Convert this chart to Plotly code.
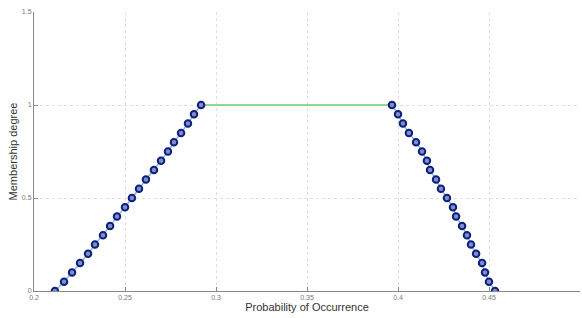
import plotly.graph_objects as go

# Left ramp (rising)
left_x = [0.2115, 0.2165, 0.2209, 0.2253, 0.2297, 0.2335, 0.2379, 0.2418, 0.2456, 0.2500,
          0.2538, 0.2577, 0.2615, 0.2659, 0.2698, 0.2736, 0.2769, 0.2808, 0.2846, 0.2879, 0.2918]
left_y = [0, 0.05, 0.10, 0.15, 0.20, 0.25, 0.30, 0.35, 0.40, 0.45,
          0.50, 0.55, 0.60, 0.65, 0.70, 0.75, 0.80, 0.85, 0.90, 0.95, 1.0]

# Right ramp (falling)
right_x = [0.3967, 0.4000, 0.4027, 0.4060, 0.4099, 0.4132, 0.4159, 0.4176, 0.4209, 0.4236,
           0.4269, 0.4302, 0.4319, 0.4352, 0.4379, 0.4401, 0.4429, 0.4462, 0.4478, 0.4500, 0.4533]
right_y = [1.0, 0.95, 0.90, 0.85, 0.80, 0.75, 0.70, 0.65, 0.60, 0.55,
           0.50, 0.45, 0.40, 0.35, 0.30, 0.25, 0.20, 0.15, 0.10, 0.05, 0]

# Plateau
top_x = [0.2918, 0.3967]
top_y = [1.0, 1.0]

x_ticks = [0.2, 0.25, 0.3, 0.35, 0.4, 0.45, 0.5]
x_tick_text = ["0.2", "0.25", "0.3", "0.35", "0.4", "0.45", "0.5"]
y_ticks = [0, 0.5, 1, 1.5]
y_tick_text = ["0", "0.5", "1", "1.5"]

marker = dict(symbol="circle", size=6.5, color="#7f8fc4", line=dict(color="#0d1f7f", width=2))

fig = go.Figure()
fig.add_trace(go.Scatter(x=top_x, y=top_y, mode="lines",
                         line=dict(color="#8fd88f", width=2), hoverinfo="skip"))
fig.add_trace(go.Scatter(x=left_x, y=left_y, mode="lines+markers",
                         line=dict(color="#9ab0e0", width=1.5), marker=marker))
fig.add_trace(go.Scatter(x=right_x, y=right_y, mode="lines+markers",
                         line=dict(color="#9ab0e0", width=1.5), marker=marker))

axis_common = dict(
    showgrid=True, gridcolor="#dedede", griddash="dot", gridwidth=1,
    zeroline=False, showline=True, linecolor="#888888", linewidth=1,
    ticks="inside", ticklen=4, tickcolor="#888888", automargin=False,
    tickfont=dict(family="Liberation Sans, Arial, sans-serif", size=7, color="#777777"),
)

fig.update_layout(
    width=582, height=318,
    margin=dict(l=34, r=2, t=12, b=27),
    paper_bgcolor="white", plot_bgcolor="white",
    showlegend=False,
    font=dict(family="Liberation Sans, Arial, sans-serif", color="#333333"),
    xaxis=dict(range=[0.2, 0.5], tickvals=x_ticks, ticktext=x_tick_text,
               title=dict(text="Probability of Occurrence", font=dict(size=11, color="#333333"), standoff=0),
               **axis_common),
    yaxis=dict(range=[0, 1.5], tickvals=y_ticks, ticktext=y_tick_text,
               title=dict(text="Membership degree", font=dict(size=11, color="#333333"), standoff=2),
               **axis_common),
)

fig.write_html("out.html", config={"displayModeBar": False},
               post_script="document.body.style.margin='0px';")
